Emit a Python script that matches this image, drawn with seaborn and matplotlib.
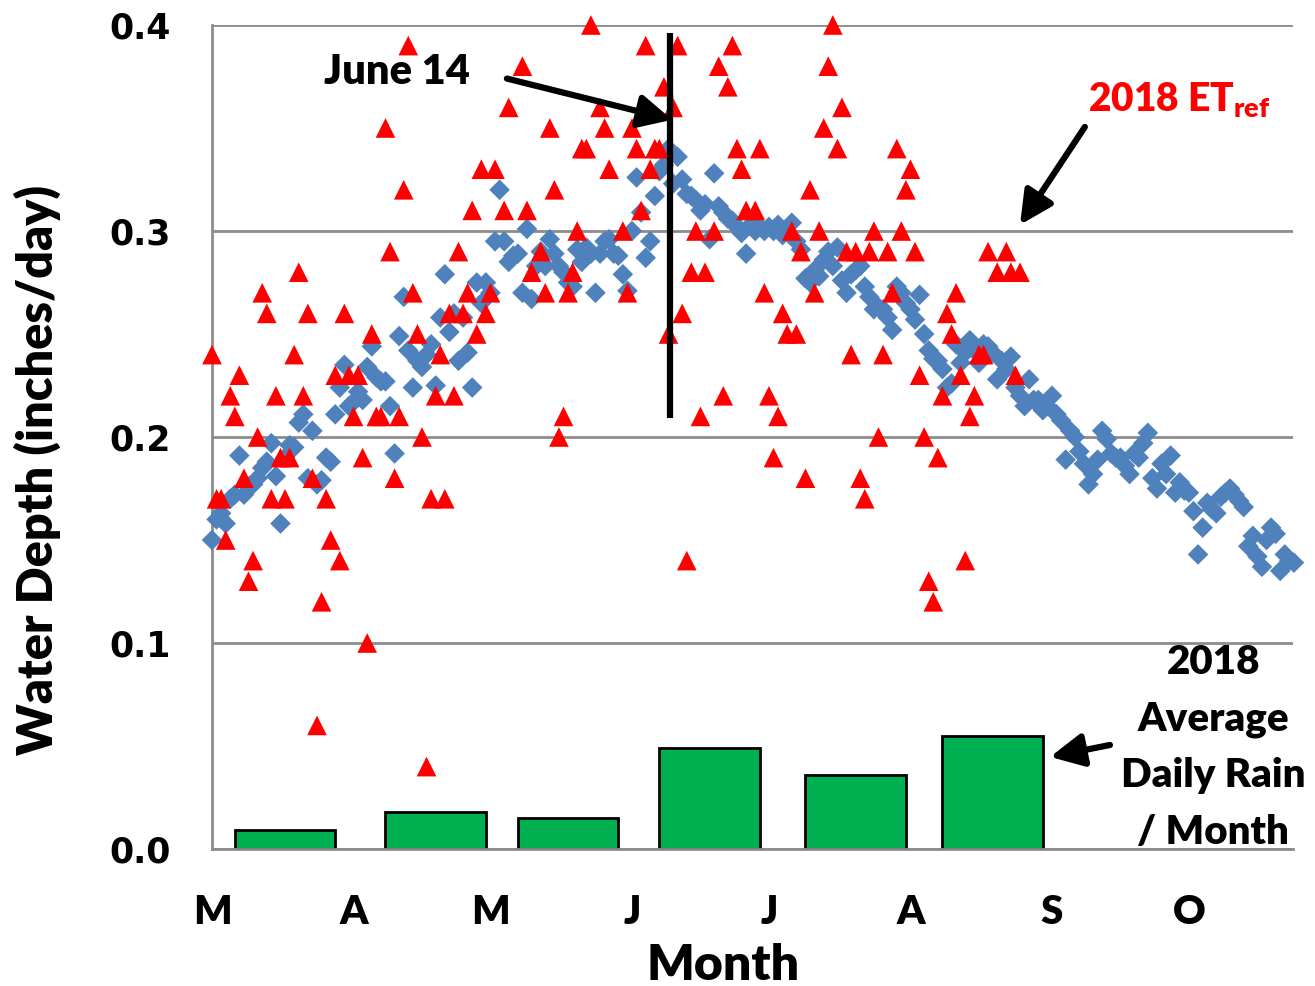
import numpy as np
import pandas as pd
import matplotlib
matplotlib.use("Agg")
import matplotlib.pyplot as plt
import seaborn as sns

sns.set_style("white")
plt.rcParams['font.family'] = ['Lato', 'DejaVu Sans']
plt.rcParams['font.weight'] = 'heavy'
plt.rcParams['text.color'] = 'black'
plt.rcParams['axes.labelcolor'] = 'black'
plt.rcParams['xtick.color'] = 'black'
plt.rcParams['ytick.color'] = 'black'
plt.rcParams['mathtext.fontset'] = 'custom'
plt.rcParams['mathtext.rm'] = 'Lato:heavy'
plt.rcParams['mathtext.bf'] = 'Lato:heavy'

# x axis is days counted from March 1 (day 0)
month_days = [0, 31, 61, 92, 122, 153, 184, 214]
month_labels = ['M', 'A', 'M', 'J', 'J', 'A', 'S', 'O']
y_ticks = [0.0, 0.1, 0.2, 0.3, 0.4]

# blue diamonds, one value per day from Mar 1
avg_et = [
    # Mar
    0.150, 0.160, 0.163, 0.158, 0.170, 0.172, 0.191, 0.172, 0.176, 0.177,
    0.180, 0.185, 0.188, 0.197, 0.181, 0.158, 0.190, 0.196, 0.195, 0.207,
    0.211, 0.180, 0.203, 0.177, 0.179, 0.190, 0.188, 0.211, 0.224, 0.235,
    0.215,
    # Apr
    0.217, 0.222, 0.218, 0.234, 0.244, 0.229, 0.227, 0.227, 0.215, 0.192,
    0.249, 0.268, 0.242, 0.224, 0.237, 0.234, 0.240, 0.245, 0.225, 0.258,
    0.279, 0.251, 0.260, 0.237, 0.258, 0.241, 0.224, 0.275, 0.265, 0.275,
    # May
    0.270, 0.295, 0.320, 0.295, 0.285, 0.288, 0.289, 0.270, 0.301, 0.267,
    0.283, 0.290, 0.283, 0.296, 0.289, 0.283, 0.280, 0.275, 0.273, 0.291,
    0.285, 0.292, 0.289, 0.270, 0.289, 0.295, 0.296, 0.289, 0.288, 0.279,
    0.271,
    # Jun
    0.300, 0.326, 0.309, 0.287, 0.295, 0.317, 0.329, 0.332, 0.340, 0.323,
    0.336, 0.325, 0.318, 0.317, 0.315, 0.310, 0.313, 0.296, 0.328, 0.312,
    0.309, 0.306, 0.305, 0.302, 0.299, 0.289, 0.303, 0.300, 0.302, 0.300,
    # Jul
    0.302, 0.300, 0.303, 0.298, 0.300, 0.304, 0.295, 0.291, 0.277, 0.275,
    0.281, 0.278, 0.286, 0.290, 0.283, 0.292, 0.276, 0.270, 0.279, 0.281,
    0.283, 0.273, 0.268, 0.262, 0.263, 0.262, 0.258, 0.252, 0.273, 0.270,
    0.265,
    # Aug
    0.262, 0.257, 0.269, 0.250, 0.242, 0.238, 0.237, 0.233, 0.224, 0.226,
    0.245, 0.236, 0.241, 0.247, 0.242, 0.236, 0.245, 0.244, 0.241, 0.228,
    0.237, 0.233, 0.239, 0.224, 0.220, 0.215, 0.228, 0.218, 0.218, 0.213,
    0.215,
    # Sep
    0.220, 0.211, 0.208, 0.189, 0.203, 0.200, 0.193, 0.187, 0.177, 0.182,
    0.189, 0.203, 0.199, 0.192, 0.190, 0.190, 0.186, 0.182, 0.192, 0.190,
    0.197, 0.202, 0.180, 0.175, 0.187, 0.182, 0.191, 0.173, 0.178, 0.174,
    # Oct
    0.173, 0.164, 0.143, 0.156, 0.168, 0.165, 0.163, 0.171, 0.173, 0.175,
    0.172, 0.169, 0.166, 0.147, 0.152, 0.142, 0.137, 0.150, 0.156, 0.153,
    0.135, 0.143, 0.140, 0.139,
]

# 2018 ETref (red triangles)
etref_day = list(range(0, 62)) + [
    62, 64, 65, 68, 69, 70, 72, 73, 74, 75, 76, 77, 78, 79, 80, 81, 82, 83,
    85, 86, 87, 90, 91,
    92, 93, 94, 95, 96, 97, 98, 99, 100, 101, 102, 103, 104, 105, 106, 107,
    108, 110, 111, 112, 113, 114, 115, 116, 117, 119, 120, 121,
] + list(range(122, 171)) + [172, 174, 175, 176, 177]
etref_val = [
    # Mar
    0.24, 0.17, 0.17, 0.15, 0.22, 0.21, 0.23, 0.18, 0.13, 0.14,
    0.20, 0.27, 0.26, 0.17, 0.22, 0.19, 0.17, 0.19, 0.24, 0.28,
    0.22, 0.26, 0.18, 0.06, 0.12, 0.17, 0.15, 0.23, 0.14, 0.26,
    0.23,
    # Apr
    0.21, 0.23, 0.19, 0.10, 0.25, 0.21, 0.21, 0.35, 0.29, 0.18,
    0.21, 0.32, 0.39, 0.27, 0.25, 0.20, 0.04, 0.17, 0.22, 0.24,
    0.17, 0.26, 0.22, 0.29, 0.26, 0.27, 0.31, 0.25, 0.33, 0.26,
    # May
    0.27, 0.33, 0.31, 0.36, 0.38, 0.31, 0.28, 0.29, 0.27, 0.35,
    0.32, 0.20, 0.21, 0.27, 0.28, 0.30, 0.34, 0.34, 0.40, 0.36,
    0.35, 0.33, 0.30, 0.27,
    # Jun
    0.35, 0.34, 0.31, 0.39, 0.33, 0.34, 0.34, 0.37, 0.25, 0.36,
    0.39, 0.26, 0.14, 0.28, 0.30, 0.21, 0.28, 0.30, 0.38, 0.22,
    0.37, 0.39, 0.34, 0.33, 0.31, 0.31, 0.34, 0.27,
    # Jul
    0.22, 0.19, 0.21, 0.26, 0.25, 0.30, 0.25, 0.29, 0.18, 0.32,
    0.27, 0.30, 0.35, 0.38, 0.40, 0.34, 0.36, 0.29, 0.24, 0.29,
    0.18, 0.17, 0.29, 0.30, 0.20, 0.24, 0.29, 0.27, 0.34, 0.30,
    0.32,
    # Aug
    0.33, 0.29, 0.23, 0.20, 0.13, 0.12, 0.19, 0.22, 0.26, 0.25,
    0.27, 0.23, 0.14, 0.21, 0.22, 0.24, 0.24, 0.29, 0.28, 0.29,
    0.28, 0.23, 0.28,
]

# 2018 average daily rain for each month (green bars), mid-month day
rain_day = [16, 49, 78, 109, 141, 171]
rain_val = [0.009, 0.018, 0.015, 0.049, 0.036, 0.055]

june14_day = 100.3

blue_df = pd.DataFrame({'day': np.arange(len(avg_et)), 'et': avg_et})
red_df = pd.DataFrame({'day': etref_day, 'et': etref_val})

fig = plt.figure(figsize=(13.15, 9.86), dpi=100)
ax = fig.add_axes([212 / 1315, 137 / 986, 1081 / 1315, 824 / 986])

grey = '#8C8C8C'
ax.bar(rain_day, rain_val, width=22, color='#00B050', edgecolor='black',
       linewidth=2, zorder=2)
sns.scatterplot(data=blue_df, x='day', y='et', marker='D', s=110,
                color='#4F81BD', edgecolor='none', ax=ax, zorder=3, clip_on=False)
sns.scatterplot(data=red_df, x='day', y='et', marker='^', s=200,
                color='#FF0000', edgecolor='none', ax=ax, zorder=4, clip_on=False)

ax.set_xlim(0, 236.8)
ax.set_ylim(0, 0.4)
ax.set_xticks(month_days)
ax.set_xticklabels(month_labels)
ax.set_yticks(y_ticks)
ax.set_yticklabels(['%.1f' % v for v in y_ticks])
for t in ax.get_yticklabels():
    t.set_fontfamily('DejaVu Sans')
    t.set_fontweight('bold')

ax.yaxis.grid(True, color=grey, linewidth=2)
ax.set_axisbelow(True)
for s in ['top', 'right']:
    ax.spines[s].set_visible(False)
for s in ['left', 'bottom']:
    ax.spines[s].set_color(grey)
    ax.spines[s].set_linewidth(2)
ax.tick_params(axis='y', length=10, width=2, color=grey, pad=20, labelsize=25)
ax.tick_params(axis='x', length=11.5, width=2, color=grey, pad=21, labelsize=29)

ax.set_xlabel('Month', fontsize=36, fontweight='heavy', va='center')
ax.xaxis.set_label_coords(0.4727, -0.1408)
ax.set_ylabel('Water Depth (inches/day)', fontsize=35, fontweight='heavy', va='center')
ax.yaxis.set_label_coords(-0.1619, 0.46)

# June 14 marker line and notes
ax.plot([june14_day, june14_day], [0.209, 0.396], color='black', lw=4.5,
        zorder=5, solid_capstyle='butt')
arrow = dict(arrowstyle='-|>,head_length=0.8,head_width=0.4', lw=4.5,
             color='black', mutation_scale=25, shrinkA=0, shrinkB=0)
ax.annotate('', xy=(100.8, 0.354), xytext=(64.6, 0.374), arrowprops=arrow,
            zorder=6)
ax.text(40.5, 0.377, 'June 14', ha='center', va='center', fontsize=30,
        fontweight='heavy', zorder=6)

ax.annotate('', xy=(177, 0.303), xytext=(191.2, 0.3505), arrowprops=arrow,
            annotation_clip=False)
ax.text(191.9, 0.3636, r'2018 ET$_{\mathbf{ref}}$', color='#FF0000', ha='left',
        va='center', fontsize=28, fontweight='heavy')

ax.annotate('', xy=(183.6, 0.0447), xytext=(196.7, 0.0505), arrowprops=arrow,
            annotation_clip=False)
ax.text(219.3, 0.0495, '2018\nAverage\nDaily Rain\n/ Month', ha='center',
        va='center', fontsize=29, fontweight='heavy', linespacing=1.65,
        multialignment='center')

fig.savefig('out.png', dpi=100)
